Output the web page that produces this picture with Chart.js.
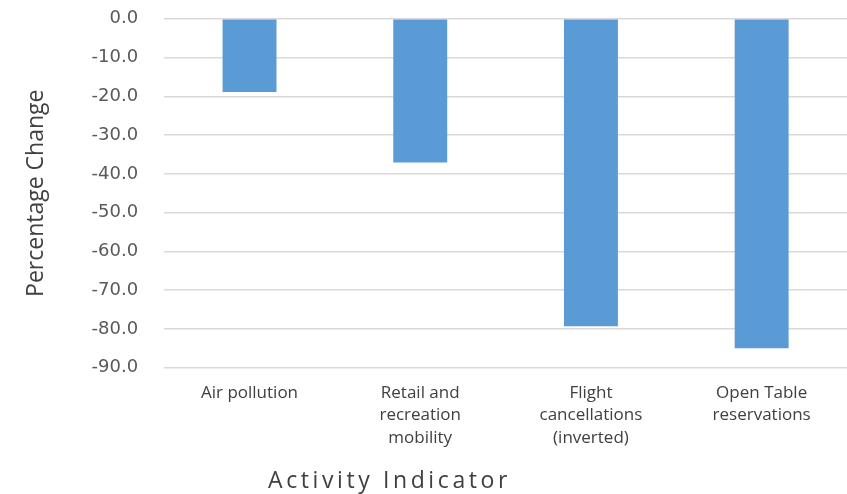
<!DOCTYPE html>
<html>
<head>
<meta charset="utf-8">
<script src="https://cdn.jsdelivr.net/npm/chart.js@4"></script>
<style>
  html, body { margin: 0; padding: 0; background: #fff; }
  #wrap { width: 847px; height: 494px; overflow: hidden; }
  /* chart.js keeps a big gap above the plot, pull the canvas up a bit */
  #inner { width: 847px; height: 512px; margin-top: -18px; }
</style>
</head>
<body>
<div id="wrap"><div id="inner"><canvas id="myChart"></canvas></div></div>
<script>
'use strict';

// data
let categories = [
    ['Air pollution'],
    ['Retail and', 'recreation', 'mobility'],
    ['Flight', 'cancellations', '(inverted)'],
    ['Open Table', 'reservations']
];
let pctChange = [-18.9, -37.1, -79.3, -85.0];
let yMin = -90;
let yMax = 0;
let yStep = 10;

let xTitle = 'Activity Indicator';
let yTitle = 'Percentage Change';

// x title sits left of centre in the original, so draw it by hand
let xTitlePlugin = {
    id: 'xTitle',
    afterDraw(chart) {
        let ctx = chart.ctx;
        let area = chart.chartArea;
        ctx.save();
        ctx.font = '23px "Open Sans"';
        ctx.letterSpacing = '3.6px';
        ctx.fillStyle = '#404040';
        ctx.textAlign = 'center';
        ctx.textBaseline = 'alphabetic';
        ctx.fillText(xTitle, area.left + (area.right - area.left) * 0.33, chart.height - 6);
        ctx.restore();
    }
};

let ctx = document.getElementById('myChart').getContext('2d');
let myChart = new Chart(ctx, {
    type: 'bar',
    data: {
        labels: categories,
        datasets: [{
            label: yTitle,
            data: pctChange,
            backgroundColor: '#5b9bd5',
            borderWidth: 0,
            categoryPercentage: 1,
            barPercentage: 0.316
        }]
    },
    plugins: [xTitlePlugin],
    options: {
        responsive: true,
        maintainAspectRatio: false,
        animation: false,
        layout: {
            padding: { top: 0, right: 0, bottom: 31, left: 23 }
        },
        plugins: {
            legend: { display: false },
            tooltip: { enabled: false }
        },
        scales: {
            x: {
                grid: { display: false, drawTicks: false },
                border: { display: false },
                ticks: {
                    color: '#404040',
                    font: { family: 'Open Sans', size: 17, lineHeight: 1.32 },
                    padding: 14,
                    maxRotation: 0,
                    autoSkip: false
                }
            },
            y: {
                min: yMin,
                max: yMax,
                grid: { color: '#d9d9d9', lineWidth: 1.5, drawTicks: false },
                border: { display: false },
                ticks: {
                    stepSize: yStep,
                    color: '#595959',
                    font: { family: 'DejaVu Sans', size: 18 },
                    padding: 26,
                    callback: function (v) { return v.toFixed(1); }
                },
                title: {
                    display: true,
                    text: yTitle,
                    color: '#404040',
                    font: { family: 'Open Sans', size: 23 },
                    padding: { top: 0, bottom: 15 }
                }
            }
        }
    }
});
</script>
</body>
</html>
